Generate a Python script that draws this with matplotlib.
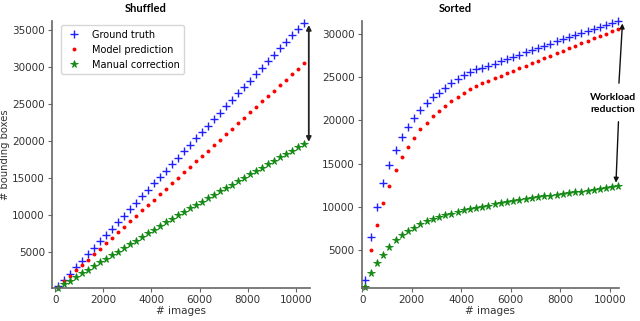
import matplotlib
matplotlib.use("Agg")
import matplotlib.pyplot as plt

# sampling points (# images)
n_images = [100, 350, 600, 850, 1100, 1350, 1600, 1850, 2100, 2350,
            2600, 2850, 3100, 3350, 3600, 3850, 4100, 4350, 4600, 4850,
            5100, 5350, 5600, 5850, 6100, 6350, 6600, 6850, 7100, 7350,
            7600, 7850, 8100, 8350, 8600, 8850, 9100, 9350, 9600, 9850,
            10100, 10350]

# Shuffled
shuf_truth = [350, 1220, 2090, 2960, 3830, 4700, 5570, 6440, 7310, 8180,
              9050, 9920, 10790, 11660, 12530, 13400, 14270, 15140, 16010, 16880,
              17750, 18620, 19490, 20360, 21230, 22100, 22970, 23840, 24710, 25580,
              26450, 27320, 28190, 29060, 29930, 30800, 31670, 32540, 33410, 34280,
              35150, 36020]
shuf_model = [300, 1030, 1770, 2510, 3240, 3980, 4720, 5460, 6190, 6930,
              7670, 8410, 9140, 9880, 10620, 11360, 12090, 12830, 13570, 14310,
              15040, 15780, 16520, 17260, 17990, 18730, 19470, 20210, 20940, 21680,
              22420, 23160, 23890, 24630, 25370, 26110, 26840, 27580, 28320, 29060,
              29790, 30560]
shuf_manual = [200, 630, 1120, 1620, 2110, 2600, 3100, 3590, 4080, 4580,
               5070, 5560, 6060, 6550, 7040, 7540, 8030, 8520, 9020, 9510,
               10000, 10450, 10910, 11370, 11830, 12290, 12750, 13200, 13660, 14120,
               14580, 15040, 15490, 15950, 16410, 16870, 17330, 17790, 18250, 18710,
               19170, 19640]

# Sorted
sort_truth = [1530, 6540, 10010, 12720, 14840, 16570, 18040, 19270, 20280, 21200,
              21970, 22670, 23210, 23710, 24290, 24760, 25220, 25570, 25950, 26030,
              26290, 26550, 26810, 27070, 27330, 27590, 27850, 28100, 28360, 28620,
              28880, 29130, 29370, 29610, 29850, 30090, 30330, 30570, 30810, 31050,
              31290, 31530]
sort_model = [750, 5000, 7970, 10440, 12450, 14260, 15730, 16960, 18000, 18970,
              19730, 20510, 21090, 21670, 22210, 22740, 23210, 23630, 23980, 24290,
              24600, 24870, 25160, 25450, 25740, 26030, 26320, 26610, 26900, 27190,
              27480, 27770, 28060, 28350, 28640, 28920, 29200, 29480, 29760, 30040,
              30330, 30620]
sort_manual = [700, 2420, 3570, 4500, 5380, 6160, 6740, 7200, 7620, 8010,
               8320, 8630, 8860, 9050, 9240, 9440, 9630, 9780, 9900, 10010,
               10130, 10290, 10420, 10540, 10660, 10780, 10900, 11010, 11120, 11220,
               11320, 11420, 11510, 11600, 11690, 11780, 11870, 11960, 12060, 12160,
               12270, 12400]

TICK_FS = 7.5
BOLD_FONT = ['Lato', 'DejaVu Sans']

fig = plt.figure(figsize=(6.4, 3.21), dpi=100)
ax1 = fig.add_axes([0.081, 0.103, 0.403, 0.833])
ax2 = fig.add_axes([0.565, 0.103, 0.4025, 0.833])


def style_axes(ax):
    for side in ['top', 'right']:
        ax.spines[side].set_visible(False)
    for side in ['left', 'bottom']:
        ax.spines[side].set_color('#666666')
        ax.spines[side].set_linewidth(1.2)
    ax.tick_params(labelsize=TICK_FS, colors='#333333', length=3, pad=2,
                   color='#666666')
    ax.set_xlabel('# images', fontsize=TICK_FS, color='#333333', labelpad=1)


def draw_series(ax, truth, model, manual):
    ax.plot(n_images, truth, '+', color='#2020ff', markersize=5.5, mew=1.0,
            label='Ground truth', clip_on=False)
    ax.plot(n_images, model, 'o', color='#ff0000', markersize=2.8, mew=0,
            label='Model prediction', clip_on=False)
    ax.plot(n_images, manual, '*', color='#118811', markersize=5.5, mew=0.6,
            label='Manual correction', clip_on=False)


# ---------------- Shuffled ----------------
draw_series(ax1, shuf_truth, shuf_model, shuf_manual)
style_axes(ax1)
ax1.set_xlim(-140, 10580)
ax1.set_ylim(150, 36300)
ax1.set_xticks([0, 2000, 4000, 6000, 8000, 10000])
ax1.set_yticks([5000, 10000, 15000, 20000, 25000, 30000, 35000])
ax1.set_ylabel('# bounding boxes', fontsize=7.2, color='#333333')
ax1.yaxis.set_label_coords(-0.163, 0.5)
ax1.text(0.363, 1.045, 'Shuffled', transform=ax1.transAxes, ha='center', va='center',
         fontsize=8, fontweight='bold', family=BOLD_FONT)
ax1.legend(loc='upper left', fontsize=7, frameon=True, handletextpad=1.0,
           handlelength=1.8, borderpad=0.45, labelspacing=0.5,
           bbox_to_anchor=(0.015, 1.0))
ax1.annotate('', xy=(10540, 19900), xytext=(10540, 35700),
             arrowprops=dict(arrowstyle='<|-|>', color='#222222', lw=1.3,
                             mutation_scale=7, shrinkA=0, shrinkB=0),
             annotation_clip=False)

# ---------------- Sorted ----------------
draw_series(ax2, sort_truth, sort_model, sort_manual)
style_axes(ax2)
ax2.set_xlim(-25, 10380)
ax2.set_ylim(640, 31540)
ax2.set_xticks([0, 2000, 4000, 6000, 8000, 10000])
ax2.set_yticks([5000, 10000, 15000, 20000, 25000, 30000])
ax2.text(0.362, 1.045, 'Sorted', transform=ax2.transAxes, ha='center', va='center',
         fontsize=8, fontweight='bold', family=BOLD_FONT)
ax2.text(10130, 21930, 'Workload\nreduction', ha='center', va='center',
         fontsize=7.5, fontweight='bold', family=BOLD_FONT, linespacing=1.5)
ax2.annotate('', xy=(10510, 31200), xytext=(10370, 24300),
             arrowprops=dict(arrowstyle='-|>', color='#111111', lw=1.0,
                             mutation_scale=7, shrinkA=0, shrinkB=0),
             annotation_clip=False)
ax2.annotate('', xy=(10250, 12800), xytext=(10350, 19850),
             arrowprops=dict(arrowstyle='-|>', color='#111111', lw=1.0,
                             mutation_scale=7, shrinkA=0, shrinkB=0),
             annotation_clip=False)

fig.savefig('out.png', dpi=100)
